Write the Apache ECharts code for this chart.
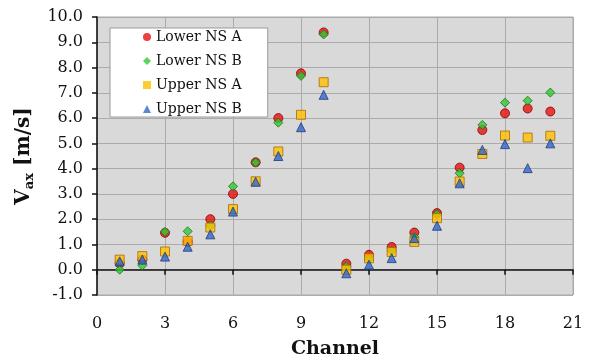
<!DOCTYPE html>
<html>
<head>
<meta charset="utf-8">
<script src="https://cdn.jsdelivr.net/npm/echarts@6/dist/echarts.min.js"></script>
<style>html,body{margin:0;padding:0;background:#fff;}#c{width:592px;height:360px;}</style>
</head>
<body>
<div id="c"></div>
<script>
var channels = [1,2,3,4,5,6,7,8,9,10,11,12,13,14,15,16,17,18,19,20];
var lowerNSA = [0.25,0.4,1.46,1.1,2.0,3.0,4.25,6.0,7.77,9.39,0.24,0.59,0.9,1.47,2.24,4.04,5.53,6.19,6.38,6.26];
var lowerNSB = [0.0,0.17,1.5,1.52,1.75,3.3,4.24,5.82,7.67,9.31,0.13,0.42,0.75,1.3,2.2,3.82,5.73,6.61,6.69,7.01];
var upperNSA = [0.4,0.54,0.72,1.14,1.67,2.4,3.5,4.68,6.13,7.42,0.0,0.45,0.7,1.1,2.04,3.49,4.58,5.31,5.23,5.3];
var upperNSB = [0.33,0.4,0.52,0.91,1.4,2.3,3.48,4.5,5.64,6.92,-0.14,0.2,0.46,1.25,1.74,3.42,4.74,4.97,4.02,5.0];
var seriesNames = ['Lower NS A','Lower NS B','Upper NS A','Upper NS B'];
var yTicks = {min:-1, max:10, interval:1};
var xTicks = {min:0, max:21, interval:3};

function pairs(vals){ return channels.map(function(c,i){ return [c, vals[i]]; }); }
var FONT = 'DejaVu Serif';
var chart = echarts.init(document.getElementById('c'), null, {renderer:'canvas'});
chart.setOption({
  animation:false,
  backgroundColor:'#ffffff',
  textStyle:{fontFamily:FONT},
  grid:{left:97, right:19, top:17, bottom:65, outerBoundsMode:'none', containLabel:false,
    show:true, backgroundColor:'#d9d9d9', borderColor:'#a8a8a8', borderWidth:1},
  legend:{
    orient:'vertical', left:110, top:28,
    backgroundColor:'#ffffff', borderColor:'#9a9a9a', borderWidth:1,
    padding:[1,26,0,33], itemGap:8, itemWidth:8, itemHeight:8,
    itemStyle:{borderWidth:0},
    textStyle:{fontFamily:FONT, fontSize:14, color:'#111', lineHeight:16},
    data:seriesNames
  },
  xAxis:{
    type:'value', min:xTicks.min, max:xTicks.max, interval:xTicks.interval,
    axisLine:{show:true, onZero:true, lineStyle:{color:'#111', width:1.5}},
    axisTick:{show:true, length:5, lineStyle:{color:'#111', width:1.5}},
    axisLabel:{margin:21, fontFamily:FONT, fontSize:16, color:'#111'},
    splitLine:{show:true, lineStyle:{color:'#ababab', width:1}},
    name:'Channel', nameLocation:'middle', nameGap:45,
    nameTextStyle:{fontFamily:FONT, fontSize:19, fontWeight:'bold', color:'#111'}
  },
  yAxis:{
    type:'value', min:yTicks.min, max:yTicks.max, interval:yTicks.interval,
    axisLine:{show:true, onZero:false, lineStyle:{color:'#111', width:1.5}},
    axisTick:{show:true, length:5, lineStyle:{color:'#111', width:1.5}},
    axisLabel:{margin:14, fontFamily:FONT, fontSize:16, color:'#111', formatter:function(v){return v.toFixed(1);}},
    splitLine:{show:true, lineStyle:{color:'#ababab', width:1}},
    name:'{v|V}{s|ax}{v| [m/s]}', nameLocation:'middle', nameGap:61, nameRotate:90,
    nameTextStyle:{
      rich:{
        v:{fontFamily:FONT, fontSize:20, fontWeight:'bold', color:'#111', lineHeight:22, verticalAlign:'bottom'},
        s:{fontFamily:FONT, fontSize:13, fontWeight:'bold', color:'#111', lineHeight:12, verticalAlign:'bottom', padding:[0,0,-3,0]}
      }
    }
  },
  series:[
    {name:seriesNames[0], type:'scatter', data:pairs(lowerNSA), symbol:'circle', symbolSize:9,
      itemStyle:{color:'#e81010', borderColor:'#8a0000', borderWidth:1}},
    {name:seriesNames[1], type:'scatter', data:pairs(lowerNSB), symbol:'diamond', symbolSize:[9,9],
      itemStyle:{color:'#2fcc2f', borderColor:'#1b6e1b', borderWidth:1}},
    {name:seriesNames[2], type:'scatter', data:pairs(upperNSA), symbol:'rect', symbolSize:9,
      itemStyle:{color:'#ffc000', borderColor:'#a86c00', borderWidth:1}},
    {name:seriesNames[3], type:'scatter', data:pairs(upperNSB), symbol:'triangle', symbolSize:9,
      itemStyle:{color:'#3366cc', borderColor:'#1f3c78', borderWidth:1}}
  ]
});
</script>
</body>
</html>
